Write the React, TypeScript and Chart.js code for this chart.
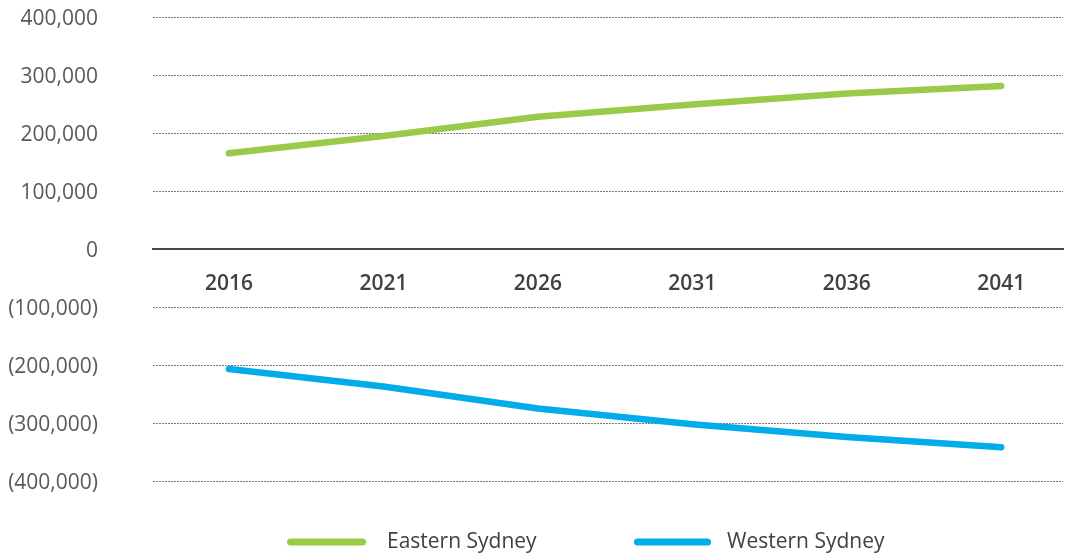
import React, { useEffect, useRef } from 'react';
import { Chart, registerables } from 'chart.js';

Chart.register(...registerables);

const years = [2016, 2021, 2026, 2031, 2036, 2041];
const easternSydney = [165000, 195000, 228000, 249000, 268000, 281000];
const westernSydney = [-207000, -237000, -275000, -302000, -324000, -342000];
const seriesLabels = ['Eastern Sydney', 'Western Sydney'];
const seriesColors = ['#99CB48', '#00ADE8'];
const yMin = -400000;
const yMax = 400000;
const yStep = 100000;

const FONT = '"Open Sans", "Noto Sans", sans-serif';

const formatY = (v: number) => {
  if (v === 0) return '0';
  const s = Math.abs(v).toLocaleString('en-US');
  return v < 0 ? `(${s})` : s;
};

const lineLegend = {
  id: 'lineLegend',
  afterDraw(chart: any) {
    const { ctx, chartArea } = chart;
    const y = chartArea.bottom + 61;
    const starts = [290.5, 637.5];
    const lens = [72, 70];
    const gaps = [24.5, 19.5];
    chart.data.datasets.forEach((ds: any, i: number) => {
      ctx.save();
      ctx.strokeStyle = ds.borderColor;
      ctx.lineWidth = 7;
      ctx.lineCap = 'round';
      ctx.beginPath();
      ctx.moveTo(starts[i], y);
      ctx.lineTo(starts[i] + lens[i], y);
      ctx.stroke();
      ctx.font = `21px ${FONT}`;
      ctx.fillStyle = '#404040';
      ctx.textAlign = 'left';
      ctx.textBaseline = 'middle';
      ctx.fillText(ds.label, starts[i] + lens[i] + gaps[i], y);
      ctx.restore();
    });
  },
};

export default function App() {
  const ref = useRef<HTMLCanvasElement>(null);

  useEffect(() => {
    document.body.style.margin = '0';
    document.body.style.overflow = 'hidden';
    const canvas = ref.current;
    if (!canvas) return;
    const series = [easternSydney, westernSydney];
    const chart = new Chart(canvas, {
      type: 'line',
      data: {
        datasets: series.map((vals, i) => ({
          label: seriesLabels[i],
          data: years.map((yr, j) => ({ x: yr, y: vals[j] })),
          borderColor: seriesColors[i],
          backgroundColor: seriesColors[i],
          borderWidth: 6.5,
          borderCapStyle: 'round',
          borderJoinStyle: 'round',
          pointRadius: 0,
          pointHoverRadius: 0,
          tension: 0,
          fill: false,
        })),
      },
      options: {
        animation: false,
        responsive: false,
        layout: { padding: { top: 17, right: 10, bottom: 73, left: 0 } },
        plugins: {
          legend: { display: false },
          tooltip: { enabled: false },
        },
        scales: {
          x: {
            type: 'linear',
            position: { y: 0 },
            min: 2013.54,
            max: 2043.0,
            afterBuildTicks: (scale: any) => {
              scale.ticks = years.map((v) => ({ value: v }));
            },
            afterFit: (scale: any) => {
              scale.height = 0;
              scale.paddingLeft = 0;
              scale.paddingRight = 0;
            },
            grid: { display: false, drawTicks: false },
            border: { display: true, color: '#4a4a4a', width: 2 },
            ticks: {
              autoSkip: false,
              maxRotation: 0,
              padding: 22,
              color: '#404040',
              font: { family: FONT, size: 21, weight: '600' },
              callback: (v: any) => String(v),
            },
          },
          y: {
            type: 'linear',
            min: yMin,
            max: yMax,
            afterFit: (scale: any) => {
              scale.width = 153;
              scale.paddingTop = 0;
              scale.paddingBottom = 0;
            },
            grid: {
              drawTicks: false,
              color: (ctx: any) => (ctx.tick && ctx.tick.value === 0 ? 'rgba(0,0,0,0)' : '#7a7a7a'),
              lineWidth: 1,
            },
            border: { display: false, dash: [2, 1] },
            ticks: {
              stepSize: yStep,
              padding: 55,
              labelOffset: 2,
              color: '#595959',
              font: { family: FONT, size: 21 },
              callback: (v: any) => formatY(Number(v)),
            },
          },
        },
      },
      plugins: [lineLegend],
    } as any);
    return () => chart.destroy();
  }, []);

  return (
    <canvas ref={ref} width={1073} height={554} style={{ display: 'block' }} />
  );
}
